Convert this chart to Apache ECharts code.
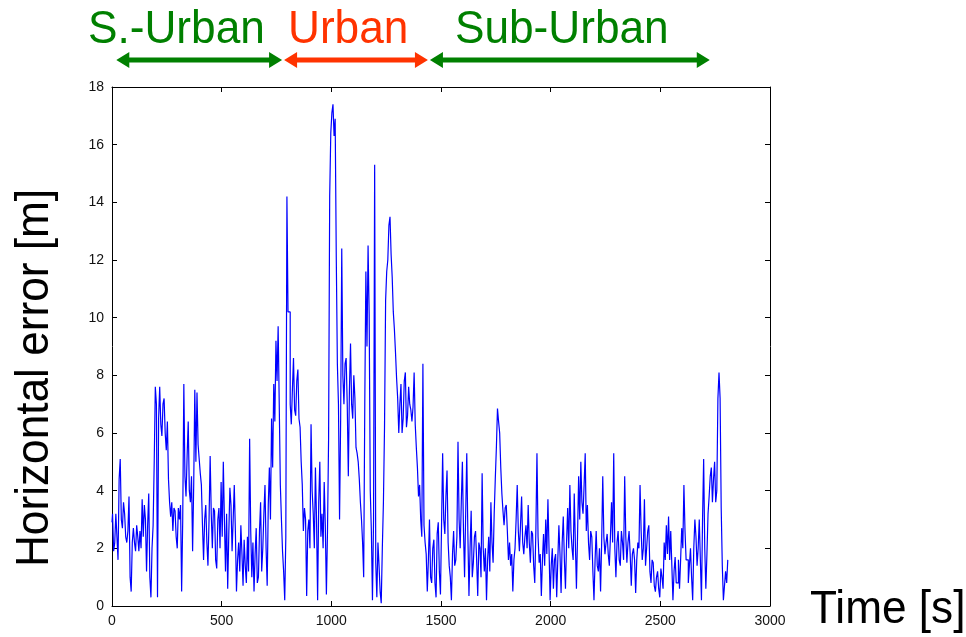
<!DOCTYPE html>
<html>
<head>
<meta charset="utf-8">
<script src="https://cdn.jsdelivr.net/npm/echarts@6/dist/echarts.min.js"></script>
<style>
html,body{margin:0;padding:0;background:#fff;}
#c{width:966px;height:637px;}
</style>
</head>
<body>
<div id="c"></div>
<script>
// Horizontal error [m].
// errXXXX: samples at t = start + i*10 s ; midXXXX: samples at t = start + i*10 + 5 s
const sampleStep = 10;
const err0000 = [2.9,1.9,3.2,1.6,5.1,2.7,3.2,2.2,3.8,0.5, 2.7,1.9,2.4,2.6,3.7,3.5,1.2,3.9,0.3,2.8,
  7.6,0.3,7.6,5.9,7.2,5.4,4.4,3.1,2.6,3.3, 2.0,3.0,0.5,7.7,3.8,6.4,3.6,1.9,7.5,7.4,
  5.1,4.2,1.6,3.5,1.4,5.2,2.0,3.3,1.3,3.4];
const mid0000 = [3.2,2.2,2.4,4.4,3.0,3.6,2.4,2.6,1.0,2.2, 2.2,2.8,1.9,2.0,2.4,3.0,2.8,1.0,2.0,5.0,
  7.0,6.5,6.3,7.0,6.0,6.4,3.6,3.6,3.4,2.4, 3.4,3.5,3.0,4.5,5.2,4.0,4.5,4.2,5.0,5.6,
  4.6,2.8,3.0,2.2,3.0,3.2,3.4,1.6,3.0,2.0];
const err0500 = [4.3,5.0,1.2,0.6,4.1,1.9,4.2,0.5,2.2,2.8, 0.7,1.4,2.4,5.8,1.0,0.5,2.7,1.0,3.6,2.0,
  4.2,0.7,4.8,6.5,7.7,9.2,9.7,4.2,1.9,0.2, 14.2,10.2,6.3,8.6,6.6,8.2,6.2,4.2,3.4,0.35,
  3.0,6.3,3.2,4.8,0.2,5.0,3.2,4.3,0.4,5.8];
const mid0500 = [2.4,3.0,3.2,2.5,3.5,3.0,2.6,1.6,1.2,1.8, 2.3,0.8,1.2,2.6,2.2,1.8,0.8,2.6,1.2,3.2,
  2.0,3.5,3.0,4.8,6.4,7.8,7.0,3.0,1.2,2.4, 10.2,7.0,7.5,6.8,7.8,6.5,5.0,2.6,3.0,2.6,
  2.0,4.0,2.0,3.0,3.6,2.4,2.0,2.8,2.6,14.2];
const err1000 = [16.4,17.4,16.9,8.4,3.0,12.4,7.0,8.6,4.5,9.1, 6.5,7.2,5.3,4.4,3.0,1.0,11.6,12.5,4.0,0.2,
  15.3,0.3,1.4,0.1,3.6,10.6,12.0,13.5,11.4,9.6, 7.9,6.0,7.7,6.5,8.1,6.6,7.0,6.4,8.1,5.5,
  3.8,3.0,8.4,2.2,0.5,3.0,0.8,2.3,0.3,2.9];
const mid1000 = [17.1,16.3,12.1,7.0,6.5,8.0,8.4,7.0,7.5,7.0, 8.0,5.5,5.0,3.6,2.2,7.0,9.0,10.1,2.6,3.0,
  1.5,2.2,0.5,2.0,6.2,11.6,13.2,12.2,10.2,8.8, 7.2,7.0,6.0,7.8,6.2,7.6,6.8,6.9,6.3,4.8,
  4.2,2.4,2.8,1.8,1.6,1.0,2.0,0.8,2.5,1.2];
const err1500 = [0.4,5.3,2.5,4.7,1.4,0.2,2.6,1.6,5.7,2.0, 5.0,1.0,5.3,0.35,3.3,1.5,2.6,0.35,2.0,4.6,
  1.2,0.2,2.4,3.6,1.5,4.4,6.85,6.0,3.9,2.8, 3.5,1.6,1.4,0.5,2.0,4.2,1.9,3.8,1.8,2.8,
  3.5,1.5,2.5,0.8,5.3,1.5,0.35,2.5,3.0,3.7];
const mid1500 = [2.8,3.0,3.8,2.2,1.0,1.8,1.4,2.4,3.0,3.6, 2.6,3.2,2.5,2.0,1.0,2.4,1.6,2.2,1.0,2.0,
  2.0,1.6,1.2,2.2,3.2,5.5,6.4,4.8,3.3,3.4, 2.6,2.2,1.8,1.6,3.0,2.6,2.8,2.2,2.4,2.0,
  2.2,2.6,1.4,2.6,2.4,1.8,1.6,1.4,1.8,2.0];
const err2000 = [0.2,2.0,1.6,0.3,2.8,0.45,3.1,0.6,3.4,4.2, 2.0,3.9,0.6,4.5,5.0,3.2,5.3,3.5,1.6,2.4,
  0.2,2.6,1.2,0.5,4.5,1.8,2.5,1.4,3.6,5.3, 1.0,2.6,1.4,2.2,4.5,1.5,2.6,0.7,2.0,0.45,
  2.2,4.2,1.6,3.7,2.0,2.8,0.8,1.5,0.5,1.2];
const mid2000 = [1.4,0.6,1.8,1.6,1.8,2.2,1.6,2.2,2.0,2.6, 1.6,2.2,2.4,3.0,3.6,4.2,2.6,2.2,2.6,1.2,
  1.6,1.4,2.0,2.2,2.4,2.2,1.8,2.4,2.2,2.0, 2.2,1.6,2.6,1.6,2.4,2.2,1.8,1.8,1.6,1.6,
  2.0,2.6,2.0,1.4,2.6,1.2,1.6,0.7,1.0,0.6];
const err2500 = [0.3,1.0,2.2,2.8,3.1,2.6,0.2,1.7,0.8,0.6, 2.7,4.2,1.6,0.8,2.0,0.2,3.0,1.4,3.0,0.2,
  5.1,0.6,3.2,4.5,3.6,5.0,4.0,8.1,3.4,0.2, 1.2,1.6];
const mid2500 = [1.3,0.6,1.6,1.8,1.6,1.4,1.2,0.8,1.6,1.6, 2.0,2.6,1.6,1.4,1.0,2.0,2.4,2.0,1.6,3.0,
  2.0,1.8,3.8,4.8,4.4,3.6,7.2,7.2,1.4,0.7, 0.8];

const xTicks = {min:0, max:3000, interval:500};
const yTicks = {min:0, max:18, interval:2};

// zone annotations: labels and time limits of the arrows
const zoneLabels = ['S.-Urban','Urban','Sub-Urban'];
const zoneColors = ['#008000','#ff3300','#008000'];
const zoneBounds = [15, 780, 1445, 2730];

const allErr = [].concat(err0000, err0500, err1000, err1500, err2000, err2500);
const allMid = [].concat(mid0000, mid0500, mid1000, mid1500, mid2000, mid2500);
const seriesData = [];
allErr.forEach((v,i)=>{
  seriesData.push([i*sampleStep, v]);
  if (i < allMid.length) seriesData.push([i*sampleStep + sampleStep/2, allMid[i]]);
});

const chart = echarts.init(document.getElementById('c'), null, {renderer:'canvas'});
const font = '"Liberation Sans", Arial, Helvetica, sans-serif';
function axisCommon(){
  return {
    axisLine:{show:true, onZero:false, lineStyle:{color:'#000', width:1}},
    axisTick:{show:true, inside:true, length:5, lineStyle:{color:'#000', width:1}},
    splitLine:{show:false}
  };
}
const plainNum = v => String(v);
chart.setOption({
  animation:false,
  backgroundColor:'#fff',
  grid:{left:112, top:87, right:196, bottom:31, containLabel:false},
  xAxis:[
    Object.assign({type:'value', position:'bottom', min:xTicks.min, max:xTicks.max, interval:xTicks.interval,
      axisLabel:{show:true, color:'#111', fontSize:14, fontFamily:font, margin:8, formatter:plainNum}}, axisCommon()),
    Object.assign({type:'value', position:'top', min:xTicks.min, max:xTicks.max, interval:xTicks.interval,
      axisLabel:{show:false}}, axisCommon())
  ],
  yAxis:[
    Object.assign({type:'value', position:'left', min:yTicks.min, max:yTicks.max, interval:yTicks.interval,
      axisLabel:{show:true, color:'#111', fontSize:14, fontFamily:font, margin:8, formatter:plainNum}}, axisCommon()),
    Object.assign({type:'value', position:'right', min:yTicks.min, max:yTicks.max, interval:yTicks.interval,
      axisLabel:{show:false}}, axisCommon())
  ],
  series:[{
    type:'line', xAxisIndex:0, yAxisIndex:0, data:seriesData, step:'middle',
    showSymbol:false, symbol:'none', lineStyle:{color:'#0000ff', width:1.2}, itemStyle:{color:'#0000ff'}
  }]
});

// annotations
const px = zoneBounds.map(t => chart.convertToPixel({xAxisIndex:0}, t));
const ay = 60, sh = 2.6, hl = 13, hh = 8;
function arrowPts(x1, x2){
  return [[x1,ay],[x1+hl,ay-hh],[x1+hl,ay-sh],[x2-hl,ay-sh],[x2-hl,ay-hh],[x2,ay],
          [x2-hl,ay+hh],[x2-hl,ay+sh],[x1+hl,ay+sh],[x1+hl,ay+hh]];
}
const textX = [88, 288, 455];
const graphics = [];
for (let i=0;i<3;i++){
  graphics.push({type:'polygon', shape:{points:arrowPts(px[i]+1, px[i+1]-1)}, style:{fill:zoneColors[i]}, silent:true});
  graphics.push({type:'text', x:textX[i], y:30, scaleX:0.94,
    style:{text:zoneLabels[i], fill:zoneColors[i], font:'47px '+font, align:'left', verticalAlign:'middle'}});
}
graphics.push({type:'text', x:35, y:378, rotation:Math.PI/2, scaleX:0.94,
  style:{text:'Horizontal error [m]', fill:'#000', font:'47px '+font, align:'center', verticalAlign:'middle'}});
graphics.push({type:'text', x:810, y:610, scaleX:0.94,
  style:{text:'Time [s]', fill:'#000', font:'47px '+font, align:'left', verticalAlign:'middle'}});
chart.setOption({graphic:graphics});
</script>
</body>
</html>
